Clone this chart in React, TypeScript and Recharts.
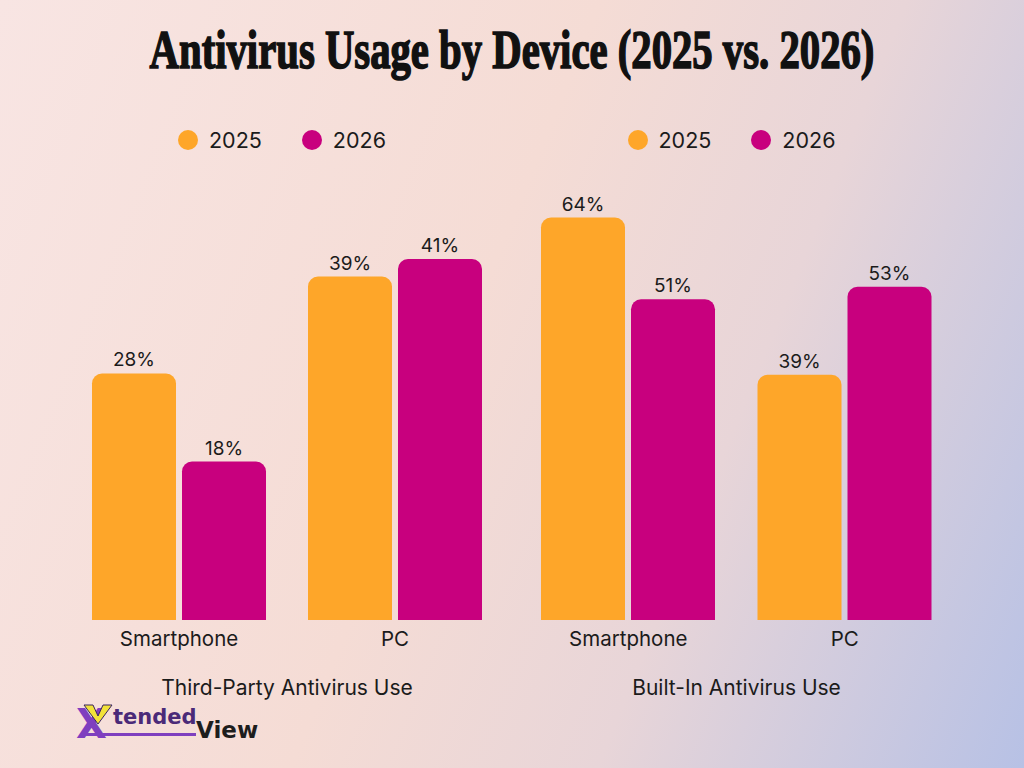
import React from "react";
import { BarChart, Bar, XAxis, YAxis, LabelList, Legend } from "recharts";

const devices = ["Smartphone", "PC"];
const years = ["2025", "2026"];
const thirdParty2025 = [28, 39];
const thirdParty2026 = [18, 41];
const builtIn2025 = [64, 39];
const builtIn2026 = [51, 53];

const ORANGE = "#fea629";
const MAGENTA = "#c8007e";
const FONT = "Inter, 'Noto Sans', sans-serif";

const toRows = (a: number[], b: number[]) =>
  devices.map((d, i) => ({ device: d, y2025: a[i], y2026: b[i] }));

function YearLegend() {
  const colors = [ORANGE, MAGENTA];
  return (
    <div style={{ height: 80, display: "flex", justifyContent: "center", paddingRight: 10, fontFamily: FONT }}>
      {years.map((y, i) => (
        <div key={y} style={{ display: "flex", alignItems: "center", height: 40, marginRight: i === 0 ? 40 : 0 }}>
          <span style={{ width: 20, height: 20, borderRadius: 10, background: colors[i], marginRight: 11 }} />
          <span style={{ fontSize: 21.5, color: "#1b1b1b" }}>{y}</span>
        </div>
      ))}
    </div>
  );
}

function Panel({ a, b, title, max, left, width }: { a: number[]; b: number[]; title: string; max: number; left: number; width: number }) {
  const labelStyle = { fontSize: 19, fill: "#1b1b1b", fontFamily: FONT };
  return (
    <div style={{ position: "absolute", left, top: 120 }}>
      <BarChart
        width={width}
        height={590}
        data={toRows(a, b)}
        margin={{ top: 0, right: 0, bottom: 0, left: 0 }}
        barSize={84}
        barGap={6}
      >
        <Legend verticalAlign="top" content={() => <YearLegend />} />
        <YAxis hide domain={[0, max]} />
        <XAxis
          dataKey="device"
          axisLine={false}
          tickLine={false}
          tickMargin={5}
          height={90}
          tick={{ fontSize: 20.5, fill: "#1b1b1b", fontFamily: FONT }}
          label={{ value: title, position: "insideBottom", offset: 15, fontSize: 21, fill: "#1b1b1b", fontFamily: FONT }}
        />
        <Bar dataKey="y2025" fill={ORANGE} radius={[10, 10, 0, 0]} isAnimationActive={false}>
          <LabelList dataKey="y2025" position="top" offset={7} formatter={(v: any) => `${v}%`} style={labelStyle} />
        </Bar>
        <Bar dataKey="y2026" fill={MAGENTA} radius={[10, 10, 0, 0]} isAnimationActive={false}>
          <LabelList dataKey="y2026" position="top" offset={7} formatter={(v: any) => `${v}%`} style={labelStyle} />
        </Bar>
      </BarChart>
    </div>
  );
}

export default function App() {
  return (
    <div
      style={{
        position: "absolute",
        left: 0,
        top: 0,
        width: 1024,
        height: 768,
        overflow: "hidden",
        background: "linear-gradient(112deg, #f8e5e3 0%, #f5dcd5 45%, #e8d5d8 68%, #b7c1e5 100%)",
      }}
    >
      {/* condensed heavy serif title: Times-style bold squeezed horizontally */}
      <svg width={1024} height={100} style={{ position: "absolute", left: 0, top: 0 }}>
        <g transform="translate(512,68) scale(0.754,1)">
          <text
            x={0}
            y={0}
            textAnchor="middle"
            fontFamily="'Liberation Serif', 'DejaVu Serif', serif"
            fontWeight={700}
            fontSize={54}
            fill="#111"
            stroke="#111"
            strokeWidth={1.6}
          >
            Antivirus Usage by Device (2025 vs. 2026)
          </text>
        </g>
      </svg>

      <Panel a={thirdParty2025} b={thirdParty2026} title="Third-Party Antivirus Use" max={47.7} left={71} width={432} />
      <Panel a={builtIn2025} b={builtIn2026} title="Built-In Antivirus Use" max={66.8} left={520} width={433} />

      {/* brand mark, bottom left */}
      <svg width={220} height={60} style={{ position: "absolute", left: 70, top: 700 }}>
        <rect x={14} y={33} width={112} height={3} fill="#7f3fbf" />
        <text x={6} y={38} fontFamily="'DejaVu Sans', sans-serif" fontWeight={700} fontSize={40} fill="#7f3fbf">X</text>
        <path d="M14 5 L23 5 L28 16 L33 5 L42 5 L28 24 Z" fill="#f2e23a" stroke="#3a2460" strokeWidth={1} />
        <text x={43} y={24} fontFamily="'DejaVu Sans', sans-serif" fontWeight={700} fontSize={21} fill="#4b2a78">tended</text>
        <text x={126} y={38} fontFamily="'DejaVu Sans', sans-serif" fontWeight={700} fontSize={23} fill="#1d1d1d">View</text>
      </svg>
    </div>
  );
}
